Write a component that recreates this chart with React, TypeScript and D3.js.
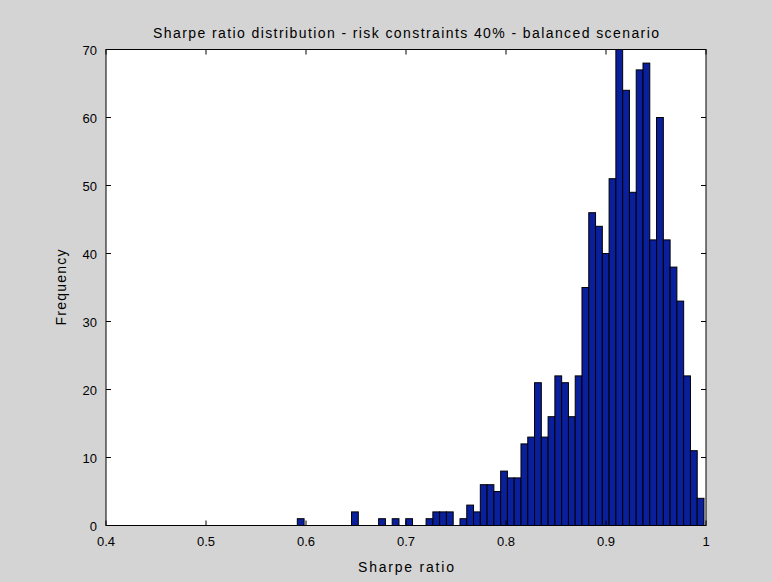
import React from "react";
import * as d3 from "d3";

const counts: number[] = [
  1, 0, 0, 0, 0, 0, 0, 0, 2, 0,
  0, 0, 1, 0, 1, 0, 1, 0, 0, 1,
  2, 2, 2, 0, 1, 3, 2, 6, 6, 5,
  8, 7, 7, 12, 13, 21, 13, 16, 22, 21,
  16, 22, 35, 46, 44, 40, 51, 70, 64, 49,
  67, 68, 42, 60, 42, 38, 33, 22, 11, 4,
];
const binStart = 0.5913;
const binEnd = 0.998;
const xTicks = [0.4, 0.5, 0.6, 0.7, 0.8, 0.9, 1];
const yTicks = [0, 10, 20, 30, 40, 50, 60, 70];
const titleText = "Sharpe ratio distribution - risk constraints 40% - balanced scenario";
const xLabel = "Sharpe ratio";
const yLabel = "Frequency";

const W = 772;
const H = 582;
const L = 106;
const R = 706;
const T = 49.5;
const B = 525.5;

export default function App() {
  const x = d3.scaleLinear().domain([0.4, 1]).range([L, R]);
  const y = d3.scaleLinear().domain([0, 70]).range([B, T]);
  const bw = (binEnd - binStart) / counts.length;
  const font = "'Liberation Sans', Arial, sans-serif";
  const tl = 5;
  return (
    <svg
      width={W}
      height={H}
      style={{ position: "fixed", left: 0, top: 0 }}
      fontFamily={font}
    >
      <rect x={0} y={0} width={W} height={H} fill="#d4d4d4" />
      <rect x={L} y={T} width={R - L} height={B - T} fill="#ffffff" />
      {counts.map((c, i) => {
        const x0 = x(binStart + i * bw);
        const x1 = x(binStart + (i + 1) * bw);
        return (
          <rect
            key={i}
            x={x0}
            y={y(c)}
            width={x1 - x0}
            height={y(0) - y(c)}
            fill="#0a1f9b"
            stroke="#000"
            strokeWidth={1}
          />
        );
      })}
      <rect x={L} y={T} width={R - L} height={B - T} fill="none" stroke="#000" strokeWidth={1} />
      {xTicks.map((t) => (
        <g key={"x" + t}>
          <line x1={x(t)} x2={x(t)} y1={B} y2={B - tl} stroke="#000" />
          <line x1={x(t)} x2={x(t)} y1={T} y2={T + tl} stroke="#000" />
          <text x={x(t)} y={B + 20} textAnchor="middle" fontSize={13} fill="#000">
            {d3.format("")(t)}
          </text>
        </g>
      ))}
      {yTicks.map((t) => (
        <g key={"y" + t}>
          <line x1={L} x2={L + tl} y1={y(t)} y2={y(t)} stroke="#000" />
          <line x1={R} x2={R - tl} y1={y(t)} y2={y(t)} stroke="#000" />
          <text x={L - 9} y={y(t) + 5} textAnchor="end" fontSize={13} fill="#000">
            {t}
          </text>
        </g>
      ))}
      <text
        x={(L + R) / 2}
        y={38}
        textAnchor="middle"
        fontSize={14}
        fill="#000"
        textLength={506}
        lengthAdjust="spacing"
      >
        {titleText}
      </text>
      <text
        x={(L + R) / 2}
        y={572}
        textAnchor="middle"
        fontSize={14}
        fill="#000"
        textLength={96}
        lengthAdjust="spacing"
      >
        {xLabel}
      </text>
      <text
        transform={`translate(66,${(T + B) / 2}) rotate(-90)`}
        textAnchor="middle"
        fontSize={14}
        fill="#000"
        textLength={76}
        lengthAdjust="spacing"
      >
        {yLabel}
      </text>
    </svg>
  );
}
